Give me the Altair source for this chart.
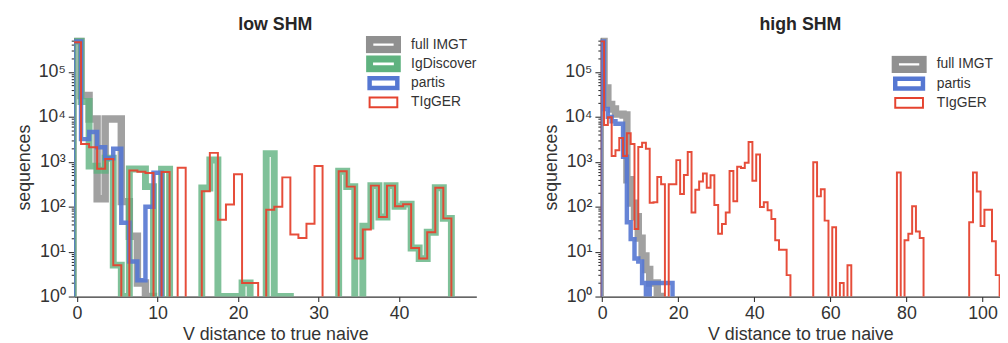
import altair as alt
import pandas as pd

# ---------------- data (counts per integer V distance bin) ----------------
series_low = ["full IMGT", "IgDiscover", "partis", "TIgGER"]
series_high = ["full IMGT", "partis", "TIgGER"]

imgt_low = [500000, 30000, 9000, 150, 9000, 9000, 130, 22, 2, 1]
igdiscover_low = [490000, 22000, 800, 650, 1200, 5, 1, 690, 690, 280,
                  0, 680, 0, 0, 0, 0, 260, 1100, 1, 1,
                  1, 2, 0, 0, 1520, 1, 1, 0, 0, 0,
                  0, 0, 0, 615, 280, 0, 37, 295, 59, 295,
                  102, 114, 12, 7, 27, 265, 55]
partis_low = [480000, 3200, 4600, 2100, 1200, 1950, 44, 6, 2.3, 100, 570]
tigger_low = [460000, 2500, 2100, 700, 1150, 5, 0, 640, 600, 560,
              0, 590, 0, 740, 0, 0, 220, 1580, 51, 112,
              530, 2, 2, 0, 86, 100, 450, 24, 20, 42,
              810, 0, 0, 615, 280, 7, 31, 295, 59, 295,
              102, 114, 12, 7, 27, 265, 55]

imgt_high = [500000, 44000, 19000, 15000, 11500, 11500, 11000, 400, 120, 60,
             20, 8, 4, 2, 2, 1]
partis_high = [480000, 15000, 10000, 8000, 7000, 7000, 1300, 45, 19, 7,
               6, 2, 1, 2, 2, 2, 2, 2, 2]
tigger_high = [480000, 6600, 9800, 1350, 1800, 3400, 1350, 4300, 2500, 32,
               2140, 2650, 1950, 122, 126, 460, 318, 0, 318, 318,
               1090, 192, 510, 1660, 74, 240, 365, 550, 265, 500,
               109, 25, 41, 74, 625, 133, 780, 730, 950, 2750,
               380, 1450, 98, 126, 83, 53, 18, 11, 11, 3,
               0, 0, 0, 0, 0, 0, 980, 170, 245, 49,
               0, 35, 0, 2, 0, 5, 0, 0, 0, 0,
               0, 0, 0, 0, 0, 0, 0, 0, 575, 0,
               18, 25, 102, 28, 20, 0, 0, 0, 0, 0,
               0, 0, 0, 0, 0, 0, 0, 45, 575, 218,
               37, 86, 86, 17, 3]

y_ticks = [m * 10 ** k for k in range(6) for m in range(1, 10) if m * 10 ** k <= 580000]
x_ticks_low = [0, 10, 20, 30, 40]
x_ticks_high = [0, 20, 40, 60, 80, 100]

COLORS = {"full IMGT": "#909090", "IgDiscover": "#5fb27f",
          "partis": "#5577d2", "TIgGER": "#e5432f"}
WIDTHS = {"full IMGT": 7.5, "IgDiscover": 7, "partis": 4.5, "TIgGER": 2}
OPAC = {"full IMGT": 0.85, "IgDiscover": 0.8, "partis": 0.9, "TIgGER": 0.95}

FONT = "Liberation Sans"
FLOOR = 0.1  # empty bins fall below the axis and are clipped


def step_frame(values, name):
    xs, ys = [-0.5], [FLOOR]
    for i, v in enumerate(values):
        vv = v if v > 0 else FLOOR
        xs += [i - 0.5, i + 0.5]
        ys += [vv, vv]
    xs.append(len(values) - 0.5)
    ys.append(FLOOR)
    return pd.DataFrame({"x": xs, "y": ys, "series": name, "k": list(range(len(xs)))})


label_expr = ("datum.value == 1 ? '10⁰' : datum.value == 10 ? '10¹' : "
              "datum.value == 100 ? '10²' : datum.value == 1000 ? '10³' : "
              "datum.value == 10000 ? '10⁴' : datum.value == 100000 ? '10⁵' : ''")
major_test = "indexof([1,10,100,1000,10000,100000], datum.value) >= 0"
legend_width_expr = ("datum.value == 'full IMGT' ? 7.5 : datum.value == 'IgDiscover' ? 7 : "
                     "datum.value == 'partis' ? 4.5 : 2")


def panel(series, values, title, xdom, xticks, width, lx, ly):
    cscale = alt.Scale(domain=series, range=[COLORS[s] for s in series])
    leg = alt.Legend(
        title=None, orient="none", legendX=lx, legendY=ly,
        symbolType="M-1.87,-0.66H1.87V0.66H-1.87Z", symbolSize=225,
        symbolFillColor="white", symbolStrokeWidth={"expr": legend_width_expr},
        symbolOpacity=1, clipHeight=18, symbolOffset=11,
        labelFont=FONT, labelFontSize=14,
        labelColor="#333333", labelOffset=21, rowPadding=1.5, padding=0,
    )
    layers = []
    for s, vals in zip(series, values):
        df = step_frame(vals, s)
        layers.append(
            alt.Chart(df).mark_line(clip=True, strokeJoin="miter", strokeCap="butt",
                                    opacity=OPAC[s], strokeWidth=WIDTHS[s]).encode(
                x=alt.X("x:Q", scale=alt.Scale(domain=xdom, nice=False, zero=False),
                        axis=alt.Axis(values=xticks, title="V distance to true naive",
                                      grid=False, tickSize=5, labelPadding=3,
                                      titlePadding=3)),
                y=alt.Y("y:Q", scale=alt.Scale(type="log", domain=[1, 580000], nice=False),
                        axis=alt.Axis(values=y_ticks, labelExpr=label_expr, title="sequences",
                                      grid=False, labelOverlap=False, labelFlush=False,
                                      tickSize={"condition": {"test": major_test, "value": 6},
                                                "value": 3},
                                      labelPadding=3, titlePadding=4)),
                color=alt.Color("series:N", scale=cscale, legend=leg),
                order=alt.Order("k:Q"),
            )
        )
    return alt.layer(*layers).properties(
        width=width, height=262,
        title=alt.TitleParams(title, fontSize=18, fontWeight="bold", font=FONT,
                              color="#262626", offset=0, dy=2),
    )


left = panel(series_low, [imgt_low, igdiscover_low, partis_low, tigger_low],
             "low SHM", [-0.35, 49.6], x_ticks_low, 407, 295, -2)
right = panel(series_high, [imgt_high, partis_high, tigger_high],
              "high SHM", [-0.35, 104.6], x_ticks_high, 404, 294, 18)

chart = alt.hconcat(left, right, spacing=66).resolve_scale(
    color="independent"
).properties(
    padding={"left": 8, "top": 5, "right": 0, "bottom": 0}
).configure_view(strokeWidth=0).configure_axis(
    domainColor="#333333", domainWidth=1.3, tickColor="#333333", tickWidth=1.1,
    labelFont=FONT, labelFontSize=18, labelColor="#333333",
    titleFont=FONT, titleFontSize=18, titleFontWeight="normal", titleColor="#333333",
)

chart.save("out.html", embed_options={"renderer": "svg", "actions": False})
